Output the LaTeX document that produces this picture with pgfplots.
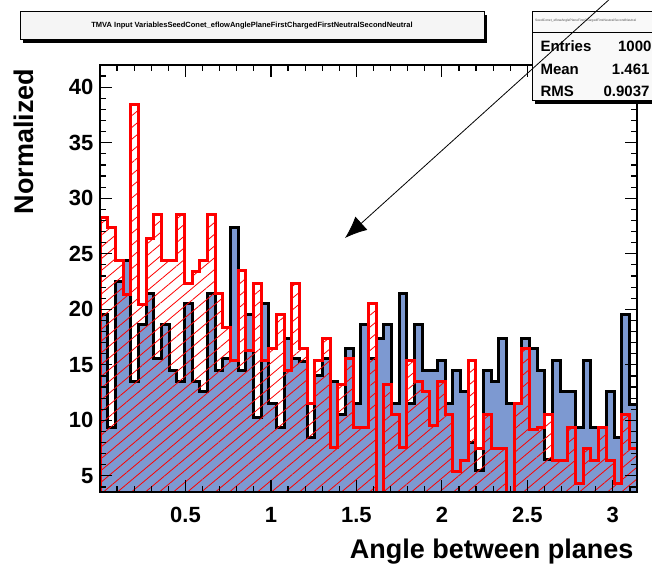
\documentclass[border=0pt]{standalone}
\usepackage{fontspec}
\setmainfont{Liberation Sans}
\usepackage{pgfplots}
\pgfplotsset{compat=1.18}
\usepackage{pgfplotstable}
\usetikzlibrary{patterns.meta,arrows.meta}
\definecolor{sigblue}{RGB}{125,153,209}

% left bin edge, filled (black outline) and hatched (red) histograms
\pgfplotstableread{
x      sig   bkg
0.0000 19.5  28.3
0.0449  9.4  27.4
0.0898 22.5  24.4
0.1346 24.4  21.3
0.1795 13.5  38.4
0.2244 18.6  20.4
0.2693 21.4  26.4
0.3142 15.6  28.5
0.3590 18.6  24.4
0.4039 14.5  24.4
0.4488 13.5  28.5
0.4937 20.5  22.3
0.5386 13.5  23.4
0.5834 12.6  24.4
0.6283 21.4  28.5
0.6732 14.5  21.4
0.7181 15.6  18.4
0.7630 27.4  15.4
0.8078 14.5  23.5
0.8527 19.5  16.3
0.8976 10.3  22.3
0.9425 20.5  15.4
0.9874 11.5  16.5
1.0322  9.4  19.5
1.0771 17.4  14.5
1.1220 15.6  22.3
1.1669 15.3  16.5
1.2118  8.5  11.5
1.2566 14.0  15.4
1.3015 15.6  17.4
1.3464 13.5   7.6
1.3913 10.5  13.2
1.4362 16.5  15.6
1.4810 11.5   9.4
1.5259 18.6   9.4
1.5708 15.6  20.5
1.6157 17.4   2.5
1.6606 18.6  13.2
1.7054 11.5  10.5
1.7503 21.4   7.6
1.7952 11.5  15.4
1.8401 18.6  13.5
1.8850 14.5  12.6
1.9298 14.5   9.5
1.9747 15.4  13.5
2.0196 11.5  10.5
2.0645 14.5   5.4
2.1094 12.6   6.4
2.1542  8.0  15.4
2.1991  5.5   7.5
2.2440 14.5  10.5
2.2889 13.5   7.5
2.3338 17.4   7.5
2.3786 11.5   2.5
2.4235 11.5  11.5
2.4684 17.4  16.5
2.5133 16.5   9.2
2.5582 14.5   9.4
2.6030  6.5  10.5
2.6479 15.4   6.4
2.6928 12.6   6.4
2.7377 12.6   9.4
2.7826  9.4   4.3
2.8274 15.4   7.5
2.8723  9.4   6.4
2.9172  9.4   9.4
2.9621 12.6   6.4
3.0070  8.5   4.3
3.0518 19.5  10.5
3.0967 11.4   7.5
3.1416 11.4   7.5
}\histdata

\begin{document}
\begin{tikzpicture}[x=1pt,y=1pt]
\useasboundingbox (0,0) rectangle (652,567);

\begin{axis}[
    at={(100pt,75pt)}, anchor=south west,
    scale only axis, width=537pt, height=427pt,
    xmin=0, xmax=3.1416, ymin=3.55, ymax=42,
    xtick={0.5,1,1.5,2,2.5,3},
    minor xtick={0.1,0.2,...,3.1},
    ytick={5,10,...,40},
    minor ytick={4,5,...,42},
    tick pos=both, tick align=inside,
    major tick length=12pt, minor tick length=6pt,
    every tick/.style={black, line width=1.2pt},
    axis line style={line width=1.5pt},
    axis on top,
    /pgf/number format/assume math mode=true,
    tick label style={font=\fontsize{22}{22}\selectfont\bfseries},
    xticklabel style={yshift=-12pt},
    yticklabel style={xshift=-3pt},
]
\addplot[const plot, fill=sigblue, draw=black, line width=3pt]
    table[x=x, y=sig] {\histdata} \closedcycle;
\addplot[const plot, pattern={Lines[angle=40,distance=9pt,line width=0.8pt]},
    pattern color=red, draw=red, line width=3pt]
    table[x=x, y=bkg] {\histdata} \closedcycle;
\draw[red, line width=1.2pt] (3.1416,3.55) -- (3.1416,42);
\end{axis}

% axis titles
\node[anchor=base east, font=\fontsize{27}{27}\selectfont\bfseries]
    at (637,9) {Angle between planes};
\node[rotate=90, anchor=base east, font=\fontsize{27}{27}\selectfont\bfseries]
    at (33,502) {Normalized};

% title box
\fill[black] (23,524) rectangle (487,552);
\draw[fill=gray!8, line width=1pt] (20,527) rectangle (484,555);
\node[font=\fontsize{7.5}{7.5}\selectfont\bfseries] at (252,541)
    {TMVA Input VariablesSeedConet\_eflowAnglePlaneFirstChargedFirstNeutralSecondNeutral};

% stats box
\fill[black] (535,463) rectangle (660,552);
\draw[fill=gray!5, line width=1pt] (532,466) rectangle (660,555);
\draw[line width=1pt] (532,534) -- (660,534);
\node[anchor=west, inner sep=1pt, font=\fontsize{3.3}{3.3}\selectfont, text=black!70] at (534,546)
    {SeedConet\_eflowAnglePlaneFirstChargedFirstNeutralSecondNeutral};
\begin{scope}[font=\fontsize{15}{15}\selectfont\bfseries]
\node[anchor=base west] at (537,515) {Entries};
\node[anchor=base east] at (655,515) {1000};
\node[anchor=base west] at (537,492) {Mean};
\node[anchor=base east] at (653,492) {1.461};
\node[anchor=base west] at (537,470) {RMS};
\node[anchor=base east] at (653,470) {0.9037};
\end{scope}

% arrow
\draw[line width=0.8pt, -{Latex[length=22pt,width=18pt]}] (612,570) -- (345,329);
\end{tikzpicture}
\end{document}
